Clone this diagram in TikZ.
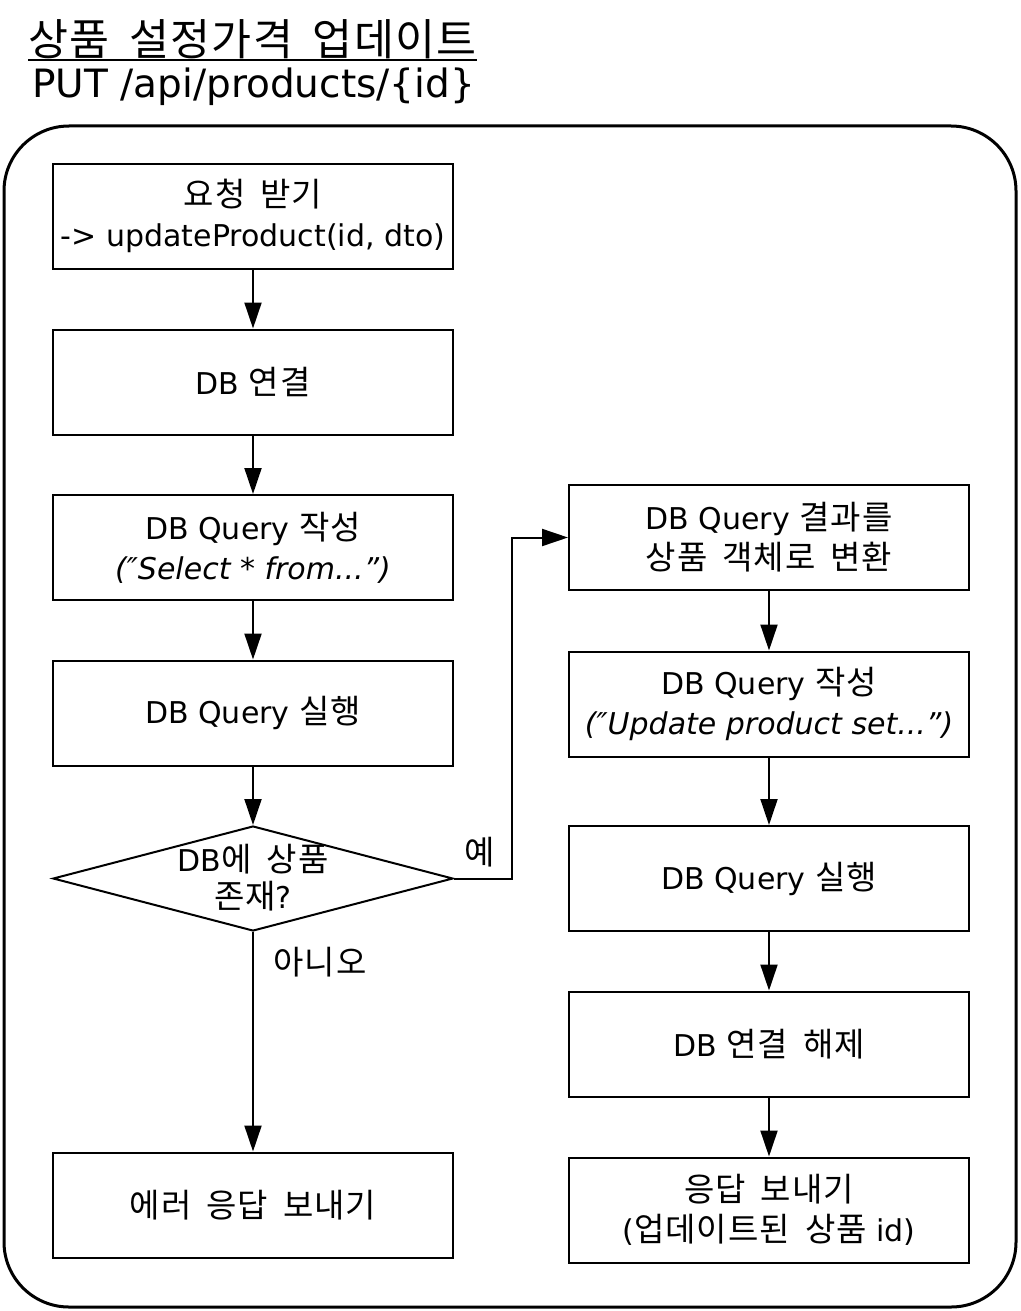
\documentclass[tikz,border=0pt]{standalone}
\usepackage{fontspec}
\setmainfont{DejaVu Sans}
\newfontfamily\ko[Scale=1.1,LetterSpace=3,WordSpace=1.8]{Noto Sans CJK KR}
\usetikzlibrary{arrows.meta,shapes.geometric}
\tikzset{
  box/.style={draw, line width=2pt, minimum width=400pt, minimum height=105pt, inner sep=0pt, align=center, font=\fontsize{30pt}{40pt}\selectfont},
  arr/.style={line width=2pt, -{Triangle[length=26pt,width=17pt]}},
  lbl/.style={inner sep=0pt, font=\fontsize{30pt}{40pt}\selectfont},
}
\begin{document}
\begin{tikzpicture}[x=1pt,y=-1pt]
\useasboundingbox (0,0) rectangle (1020,1311);
% title
\node[inner sep=0pt, anchor=west, font=\fontsize{39.5pt}{44pt}\selectfont\ko] (title) at (28,39) {상품 설정가격 업데이트};
\draw[line width=2pt] ([yshift=-1pt]title.south west) -- ([yshift=-1pt]title.south east);
\node[inner sep=0pt, anchor=west, font=\fontsize{39pt}{44pt}\selectfont] (api) at (32,87) {PUT /api/products/\{id\}};
% frame
\draw[line width=3pt, rounded corners=65pt] (4,126) rectangle (1016,1307);
% left column
\node[box] (b1) at (253,216) {{\ko 요청 받기}\\-> updateProduct(id, dto)};
\node[box] (b2) at (253,382) {DB {\ko 연결}};
\node[box] (b3) at (253,547.5) {DB Query {\ko 작성}\\\textit{(″Select * from...”)}};
\node[box] (b4) at (253,713) {DB Query {\ko 실행}};
\node[draw, line width=2pt, shape=diamond, minimum width=400pt, minimum height=105pt, inner sep=0pt] (dia) at (253,878.5) {};
\node[lbl, align=center, font=\fontsize{30pt}{37pt}\selectfont] (diat) at (253,878) {DB{\ko 에 상품}\\{\ko 존재}?};
\node[box] (err) at (253,1205) {\ko 에러 응답 보내기};
% right column
\node[box] (r1) at (769,537.5) {DB Query {\ko 결과를}\\{\ko 상품 객체로 변환}};
\node[box] (r2) at (769,704) {DB Query {\ko 작성}\\\textit{(″Update product set...”)}};
\node[box] (r3) at (769,878.5) {DB Query {\ko 실행}};
\node[box] (r4) at (769,1044) {DB {\ko 연결 해제}};
\node[box] (r5) at (769,1210) {{\ko 응답 보내기}\\({\ko 업데이트된 상품} id)};
% connectors
\draw[arr] (b1) -- (b2);
\draw[arr] (b2) -- (b3);
\draw[arr] (b3) -- (b4);
\draw[arr] (b4) -- (dia);
\draw[arr] (dia.east) -- (512,878.5) |- (r1.west);
\draw[arr] (dia.south) -- (err.north);
\draw[arr] (r1) -- (r2);
\draw[arr] (r2) -- (r3);
\draw[arr] (r3) -- (r4);
\draw[arr] (r4) -- (r5);
% labels
\node[lbl, font=\fontsize{30pt}{40pt}\selectfont\ko] (yes) at (480,852) {예};
\node[lbl, font=\fontsize{30pt}{40pt}\selectfont\ko] (no) at (320,962) {아니오};
\end{tikzpicture}
\end{document}
